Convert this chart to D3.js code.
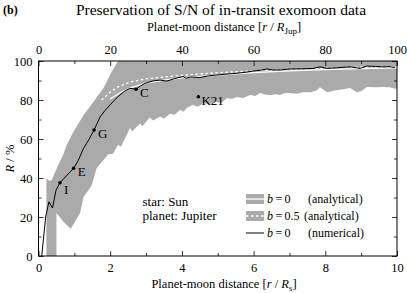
<!DOCTYPE html>
<html>
<head>
<meta charset="utf-8">
<script src="https://cdn.jsdelivr.net/npm/d3@7"></script>
<style>
  body { margin: 0; background: #fff; }
  svg { display: block; font-family: "Liberation Serif", "DejaVu Serif", serif; }
</style>
</head>
<body>
<svg id="chart" width="407" height="293"></svg>
<script>
// band of analytical predictions for b = 0 (upper edge, then lower edge)
const bandUpper = [
  [0.22, 0], [0.22, 40], [0.3, 38.5], [0.37, 39], [0.51, 45], [0.69, 52], [0.79, 57],
  [0.97, 63.6], [1.25, 72], [1.53, 79], [1.81, 86], [2.04, 94.5], [2.22, 100], [10, 100]
];
const bandLower = [
  [0.5, 0], [0.5, 22], [0.7, 17.5], [0.9, 14], [1.0, 17], [1.16, 22], [1.25, 30], [1.48, 36],
  [1.62, 45], [1.94, 52], [2.08, 52.5], [2.22, 57], [2.3, 56], [2.46, 62], [2.55, 65.6], [2.62, 64],
  [2.83, 68], [2.9, 66.5], [3.1, 71], [3.2, 69.5], [3.39, 71.5], [3.5, 70.5], [3.67, 73], [3.8, 72.5],
  [3.95, 75], [4.05, 74], [4.14, 76], [4.3, 77.4], [4.45, 76.5], [4.6, 78.5], [4.75, 78], [4.98, 79],
  [5.1, 78.5], [5.26, 81], [5.4, 80.5], [5.53, 81.5], [5.7, 81], [5.9, 82.6], [6.05, 82], [6.18, 83.6],
  [6.3, 83], [6.46, 82.5], [6.6, 83], [6.74, 82.6], [6.85, 83.5], [7.0, 83.6], [7.2, 83.2], [7.38, 84],
  [7.6, 84], [7.77, 85], [7.85, 86.5], [8.05, 84], [8.3, 85], [8.5, 85.5], [8.69, 86.2], [8.88, 84],
  [9.0, 84.5], [9.16, 86.7], [9.4, 86.5], [9.6, 86.7], [9.8, 86.5], [9.94, 85.8], [10, 86]
];
// b = 0 analytical (solid white) and b = 0.5 analytical (dotted white)
const analytic0 = [
  [2.0, 80.5], [2.3, 84], [2.6, 86.5], [3.0, 88.6], [3.5, 90.2], [4.0, 91.3], [5.0, 92.8],
  [6.0, 94.0], [7.0, 94.9], [8.0, 95.6], [9.0, 96.1], [10, 96.5]
];
const analytic05 = [
  [1.76, 80], [2.0, 84], [2.2, 86.6], [2.55, 89.2], [3.0, 90.8], [3.4, 91.6], [4.0, 92.7],
  [5.0, 94.0], [6.0, 95.0], [7.0, 95.7], [8.0, 96.3], [9.0, 96.8], [10, 97.1]
];
// b = 0 numerical
const numerical = [
  [0.09, 0], [0.2, 20], [0.29, 27.8], [0.39, 24.6], [0.49, 33.8], [0.6, 37.6], [0.8, 41.5],
  [0.98, 45], [1.11, 49], [1.25, 55], [1.4, 59.5], [1.55, 64.6], [1.72, 71.4], [1.85, 74.5],
  [1.99, 77.4], [2.13, 80.2], [2.27, 82.6], [2.4, 84.5], [2.55, 86], [2.72, 85.5], [2.85, 87.3],
  [2.97, 88.5], [3.2, 89.8], [3.39, 90.2], [3.58, 89.7], [3.8, 91], [4.03, 92], [4.12, 91.2],
  [4.25, 91.8], [4.5, 91.5], [4.75, 92.4], [4.97, 92.8], [5.2, 93.2], [5.53, 93.7], [5.8, 94.3],
  [6.0, 94.9], [6.2, 95.3], [6.37, 95.9], [6.55, 95.4], [6.74, 95.4], [7.0, 95.9], [7.3, 96],
  [7.66, 96.2], [7.85, 97], [8.05, 96.2], [8.3, 96.5], [8.69, 97], [8.97, 96.2], [9.16, 97.4],
  [9.4, 97.2], [9.6, 97], [9.8, 97.1], [9.94, 96.6]
];
const markers = [
  { name: "I", x: 0.6, r: 37.6, dx: 4, dy: 11 },
  { name: "E", x: 0.98, r: 45, dx: 4, dy: 8 },
  { name: "G", x: 1.55, r: 64.6, dx: 4, dy: 8 },
  { name: "C", x: 2.72, r: 85.5, dx: 4, dy: 8 },
  { name: "K21", x: 4.46, r: 81.7, dx: 3, dy: 8 }
];
const xTicks = [0, 2, 4, 6, 8, 10];
const topTicks = [0, 20, 40, 60, 80, 100];
const yTicks = [0, 20, 40, 60, 80, 100];
const legendRows = [
  { b: "0", note: "(analytical)", kind: "solid" },
  { b: "0.5", note: "(analytical)", kind: "dotted" },
  { b: "0", note: "(numerical)", kind: "line" }
];

const svg = d3.select("#chart");
const margin = { left: 38.5, right: 10, top: 61, bottom: 37 };
const width = 407 - margin.left - margin.right;
const height = 293 - margin.top - margin.bottom;

const x = d3.scaleLinear().domain([0, 10]).range([0, width]);
const xTop = d3.scaleLinear().domain([0, 100]).range([0, width]);
const y = d3.scaleLinear().domain([0, 100]).range([height, 0]);

const g = svg.append("g").attr("transform", `translate(${margin.left},${margin.top})`);

g.append("defs").append("clipPath").attr("id", "plotClip")
  .append("rect").attr("width", width).attr("height", height);

const plot = g.append("g").attr("clip-path", "url(#plotClip)");

const line = d3.line().x(d => x(d[0])).y(d => y(d[1]));

// grey band
plot.append("path")
  .attr("d", line(bandUpper.concat(bandLower.slice().reverse())) + "Z")
  .attr("fill", "#aaaaaa");

plot.append("path")
  .attr("d", line(analytic05))
  .attr("fill", "none").attr("stroke", "#fff").attr("stroke-width", 1.3)
  .attr("stroke-dasharray", "2.5,2.5");

plot.append("path")
  .attr("d", line(analytic0))
  .attr("fill", "none").attr("stroke", "#fff").attr("stroke-width", 1.3);

plot.append("path")
  .attr("d", line(numerical))
  .attr("fill", "none").attr("stroke", "#000").attr("stroke-width", 1);

// marked moons
const mk = g.append("g");
mk.selectAll("circle").data(markers).join("circle")
  .attr("cx", d => x(d.x)).attr("cy", d => y(d.r)).attr("r", 1.8).attr("fill", "#000");
mk.selectAll("text").data(markers).join("text")
  .attr("x", d => x(d.x) + d.dx).attr("y", d => y(d.r) + d.dy)
  .attr("font-size", 13).text(d => d.name);

// axes with inward ticks
function styleAxis(sel) {
  sel.attr("font-family", null).attr("font-size", 12.5);
  sel.select(".domain").remove();
  sel.selectAll(".tick line").attr("stroke", "#000").attr("stroke-width", 0.8);
  sel.selectAll(".tick text").attr("fill", "#000");
}
const axisB = g.append("g").attr("transform", `translate(0,${height})`)
  .call(d3.axisBottom(x).tickValues(d3.range(0, 10.01, 1)).tickSize(-4).tickPadding(7)
    .tickFormat(d => xTicks.includes(d) ? d : ""));
axisB.selectAll(".tick line").attr("y2", d => xTicks.includes(d) ? -5 : -3);
styleAxis(axisB);

const axisT = g.append("g")
  .call(d3.axisTop(xTop).tickValues(d3.range(0, 100.1, 10)).tickSize(-4).tickPadding(7)
    .tickFormat(d => topTicks.includes(d) ? d : ""));
axisT.selectAll(".tick line").attr("y2", d => topTicks.includes(d) ? 5 : 3);
styleAxis(axisT);

const axisL = g.append("g")
  .call(d3.axisLeft(y).tickValues(d3.range(0, 100.1, 10)).tickSize(-4).tickPadding(6)
    .tickFormat(d => yTicks.includes(d) ? d : ""));
axisL.selectAll(".tick line").attr("x2", d => yTicks.includes(d) ? 5 : 3);
styleAxis(axisL);

const axisR = g.append("g").attr("transform", `translate(${width},0)`)
  .call(d3.axisRight(y).tickValues(d3.range(0, 100.1, 10)).tickSize(-4).tickFormat(""));
axisR.selectAll(".tick line").attr("x2", d => yTicks.includes(d) ? -5 : -3);
styleAxis(axisR);

g.append("rect").attr("width", width).attr("height", height)
  .attr("fill", "none").attr("stroke", "#000").attr("stroke-width", 1);

// titles
svg.append("text").attr("x", 3).attr("y", 14).attr("font-size", 12).attr("font-weight", "bold").text("(b)");
svg.append("text").attr("x", 221).attr("y", 15).attr("text-anchor", "middle").attr("font-size", 15.5)
  .text("Preservation of S/N of in-transit exomoon data");

function axisTitle(yPos, xPos, sub) {
  const t = svg.append("text").attr("x", xPos).attr("y", yPos).attr("text-anchor", "middle").attr("font-size", 12.5);
  t.append("tspan").text("Planet-moon distance [");
  t.append("tspan").attr("font-style", "italic").text("r");
  t.append("tspan").text(" / ");
  t.append("tspan").attr("font-style", "italic").text("R");
  t.append("tspan").attr("font-size", 9).attr("dy", 3).text(sub);
  t.append("tspan").attr("dy", -3).text("]");
}
axisTitle(31, 224, "Jup");
axisTitle(288, 224, "s");

const yTitle = svg.append("text").attr("transform", `translate(14,${margin.top + height / 2}) rotate(-90)`)
  .attr("text-anchor", "middle").attr("font-size", 12.5);
yTitle.append("tspan").attr("font-style", "italic").text("R");
yTitle.append("tspan").text(" / %");

// star/planet note
svg.append("text").attr("x", 142.5).attr("y", 205.5).attr("font-size", 13).text("star: Sun");
svg.append("text").attr("x", 142.5).attr("y", 219.5).attr("font-size", 13).text("planet: Jupiter");

// legend
const lg = svg.append("g").attr("transform", "translate(246,0)");
const rowY = [199, 216, 233];
legendRows.forEach((d, i) => {
  const yy = rowY[i];
  if (d.kind === "line") {
    lg.append("line").attr("x1", 0).attr("x2", 18).attr("y1", yy).attr("y2", yy)
      .attr("stroke", "#000").attr("stroke-width", 1);
  } else {
    lg.append("rect").attr("x", 0).attr("y", yy - 5).attr("width", 18).attr("height", 10).attr("fill", "#aaaaaa");
    lg.append("line").attr("x1", 0).attr("x2", 18).attr("y1", yy).attr("y2", yy)
      .attr("stroke", "#fff").attr("stroke-width", 1.3)
      .attr("stroke-dasharray", d.kind === "dotted" ? "2.5,2.5" : null);
  }
  const t = lg.append("text").attr("x", 21).attr("y", yy + 4).attr("font-size", 12);
  t.append("tspan").attr("font-style", "italic").text("b");
  t.append("tspan").text("\u2009=\u2009" + d.b);
  lg.append("text").attr("x", d.b === "0.5" ? 58 : 62).attr("y", yy + 4).attr("font-size", 12)
    .text(d.note);
});
</script>
</body>
</html>
